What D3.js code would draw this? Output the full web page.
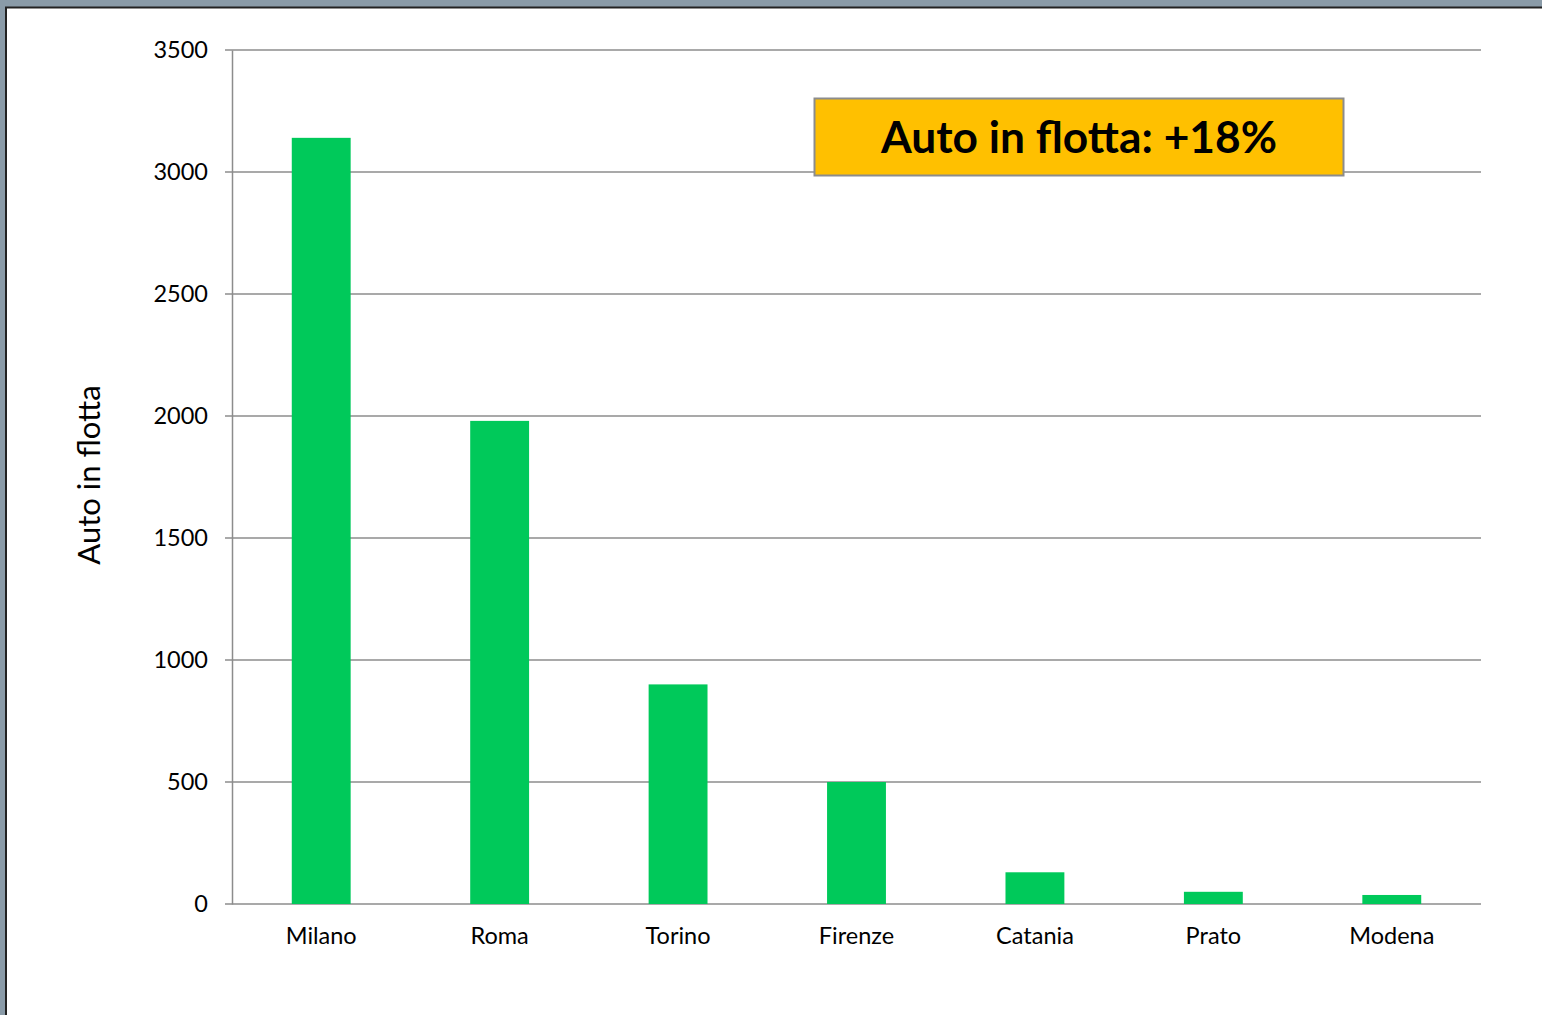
<!DOCTYPE html>
<html><head><meta charset="utf-8">
<script src="https://cdn.jsdelivr.net/npm/d3@7"></script>
<style>html,body{margin:0;padding:0;background:#fff;overflow:hidden}</style>
</head><body>
<svg id="chart" width="1542" height="1015"></svg>
<script>
const categories = ["Milano","Roma","Torino","Firenze","Catania","Prato","Modena"];
const values = [3140, 1980, 900, 500, 130, 50, 37];
const yTicks = [0,500,1000,1500,2000,2500,3000,3500];
const yTitle = "Auto in flotta";
const annotation = "Auto in flotta: +18%";

const svg = d3.select("#chart");
const W = 1542, H = 1015;
// frame
svg.append("rect").attr("x",0).attr("y",0).attr("width",W).attr("height",H).attr("fill","#fff");
svg.append("rect").attr("x",0).attr("y",0).attr("width",W).attr("height",7).attr("fill","#8a9ba8");
svg.append("rect").attr("x",0).attr("y",0).attr("width",5).attr("height",H).attr("fill","#8a9ba8");
svg.append("line").attr("x1",5).attr("x2",W).attr("y1",7.5).attr("y2",7.5).attr("stroke","#222").attr("stroke-width",2);
svg.append("line").attr("x1",6).attr("x2",6).attr("y1",7).attr("y2",H).attr("stroke","#222").attr("stroke-width",2);

const x0 = 232, x1 = 1481, yTop = 50, yBot = 904;
const x = d3.scaleBand().domain(categories).range([x0,x1]).padding(0);
const y = d3.scaleLinear().domain([0,3500]).range([yBot,yTop]);
const font = "Lato, 'Noto Sans', sans-serif";

// gridlines
svg.append("g").selectAll("line").data(yTicks).join("line")
  .attr("x1",225).attr("x2",x1).attr("y1",d=>y(d)).attr("y2",d=>y(d))
  .attr("stroke","#8c8c8c").attr("stroke-width",1.5);

// y axis
const yAxis = d3.axisLeft(y).tickValues(yTicks).tickFormat(d3.format("d")).tickSize(0).tickPadding(24);
const gy = svg.append("g").attr("transform",`translate(${x0},0)`).call(yAxis);
gy.select(".domain").attr("stroke","#8c8c8c").attr("stroke-width",1.5);
gy.selectAll("text").attr("font-family",font).attr("font-size",23.5).attr("fill","#000");

// bars
const bw = x.bandwidth()*0.33;
svg.append("g").selectAll("rect").data(values).join("rect")
  .attr("x",(d,i)=>x(categories[i])+x.bandwidth()/2-bw/2)
  .attr("width",bw)
  .attr("y",d=>y(d)).attr("height",d=>y(0)-y(d))
  .attr("fill","#00c95a");

// x axis
const xAxis = d3.axisBottom(x).tickSize(0).tickPadding(23);
const gx = svg.append("g").attr("transform",`translate(0,${yBot})`).call(xAxis);
gx.select(".domain").remove();
gx.selectAll("text").attr("font-family",font).attr("font-size",23.5).attr("fill","#000");

// y title
svg.append("text").attr("transform","translate(100,475) rotate(-90)")
  .attr("text-anchor","middle").attr("font-family",font).attr("font-size",31)
  .attr("fill","#000").text(yTitle);

// annotation
svg.append("rect").attr("x",814.5).attr("y",98.5).attr("width",529).attr("height",77)
  .attr("fill","#ffc000").attr("stroke","#8c8c8c").attr("stroke-width",2);
svg.append("text").attr("x",1079).attr("y",153).attr("text-anchor","middle")
  .attr("font-family",font).attr("font-weight","bold").attr("font-size",44)
  .attr("textLength",396).attr("lengthAdjust","spacingAndGlyphs")
  .attr("fill","#000").text(annotation);
</script>
</body></html>
